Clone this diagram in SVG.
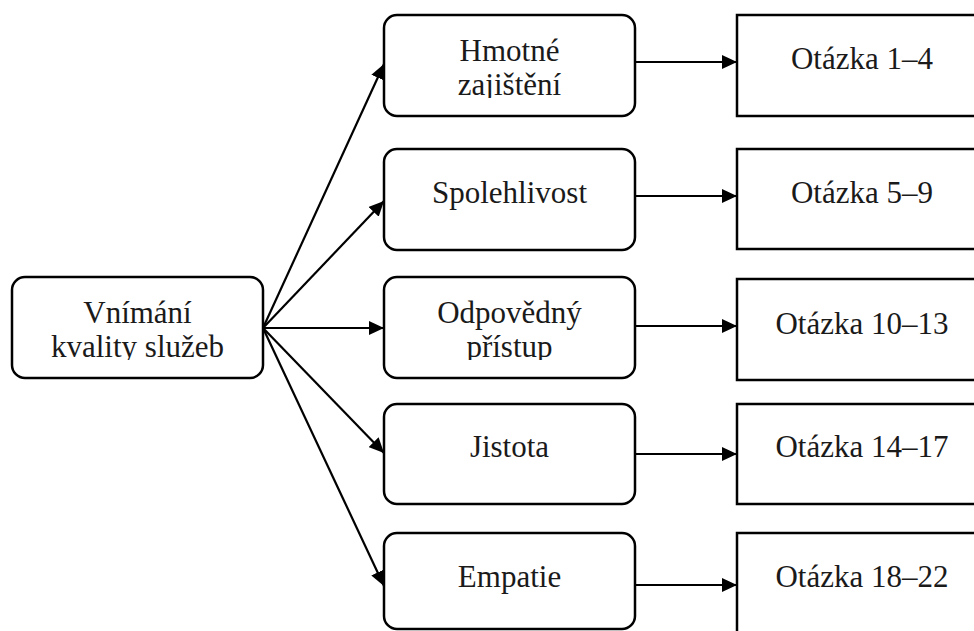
<svg xmlns="http://www.w3.org/2000/svg" width="974" height="631" viewBox="0 0 974 631">
<defs>
<style>
.rb{fill:#fff;stroke:#000;stroke-width:2.5}
.sq{fill:#fff;stroke:#000;stroke-width:2.5}
.t{font-family:"Liberation Serif","Times New Roman",serif;font-size:31px;fill:#1a1a1a;text-anchor:middle}
.c{fill:none;stroke:#000;stroke-width:2.2}
</style>
<marker id="ah" markerUnits="userSpaceOnUse" markerWidth="16" markerHeight="14" refX="15" refY="7" orient="auto">
<path d="M0,0 L15,7 L0,14 Z" fill="#000"/>
</marker>
<clipPath id="c0"><rect x="12" y="277" width="251" height="83"/></clipPath>
<clipPath id="c1"><rect x="384" y="15" width="251" height="83"/></clipPath>
<clipPath id="c3"><rect x="384" y="277" width="251" height="83"/></clipPath>
</defs>
<rect width="974" height="631" fill="#fff"/>
<g id="connectors">
<line class="c" x1="263" y1="328" x2="384" y2="64" marker-end="url(#ah)"/>
<line class="c" x1="263" y1="328" x2="384" y2="201" marker-end="url(#ah)"/>
<line class="c" x1="263" y1="328" x2="384" y2="328" marker-end="url(#ah)"/>
<line class="c" x1="263" y1="328" x2="384" y2="453" marker-end="url(#ah)"/>
<line class="c" x1="263" y1="328" x2="384" y2="586" marker-end="url(#ah)"/>
<line class="c" x1="635" y1="62" x2="737" y2="62" marker-end="url(#ah)"/>
<line class="c" x1="635" y1="196" x2="737" y2="196" marker-end="url(#ah)"/>
<line class="c" x1="635" y1="326" x2="737" y2="326" marker-end="url(#ah)"/>
<line class="c" x1="635" y1="454" x2="737" y2="454" marker-end="url(#ah)"/>
<line class="c" x1="635" y1="585" x2="737" y2="585" marker-end="url(#ah)"/>
</g>
<g id="n-vnimani">
<rect class="rb" x="12" y="277" width="251" height="101" rx="13"/>
<g clip-path="url(#c0)"><text class="t" x="137.5" y="323">Vnímání</text><text class="t" x="137.5" y="357">kvality služeb</text></g>
</g>
<g id="n-hmotne">
<rect class="rb" x="384" y="15" width="251" height="101" rx="13"/>
<g clip-path="url(#c1)"><text class="t" x="509.5" y="61">Hmotné</text><text class="t" x="509.5" y="95">zajištění</text></g>
</g>
<g id="n-spolehlivost">
<rect class="rb" x="384" y="149" width="251" height="101" rx="13"/>
<text class="t" x="509.5" y="203">Spolehlivost</text>
</g>
<g id="n-odpovedny">
<rect class="rb" x="384" y="277" width="251" height="101" rx="13"/>
<g clip-path="url(#c3)"><text class="t" x="509.5" y="323">Odpovědný</text><text class="t" x="509.5" y="357">přístup</text></g>
</g>
<g id="n-jistota">
<rect class="rb" x="384" y="404" width="251" height="100" rx="13"/>
<text class="t" x="509.5" y="457">Jistota</text>
</g>
<g id="n-empatie">
<rect class="rb" x="384" y="533" width="251" height="96" rx="13"/>
<text class="t" x="509.5" y="587">Empatie</text>
</g>
<g id="n-q1">
<rect class="sq" x="737" y="15" width="251" height="101"/>
<text class="t" x="862" y="69">Otázka 1–4</text>
</g>
<g id="n-q2">
<rect class="sq" x="737" y="149" width="251" height="100"/>
<text class="t" x="862" y="203">Otázka 5–9</text>
</g>
<g id="n-q3">
<rect class="sq" x="737" y="279" width="251" height="101"/>
<text class="t" x="862" y="334">Otázka 10–13</text>
</g>
<g id="n-q4">
<rect class="sq" x="737" y="404" width="251" height="100"/>
<text class="t" x="862" y="457">Otázka 14–17</text>
</g>
<g id="n-q5">
<rect class="sq" x="737" y="533" width="251" height="110"/>
<text class="t" x="862" y="587">Otázka 18–22</text>
</g>
</svg>
